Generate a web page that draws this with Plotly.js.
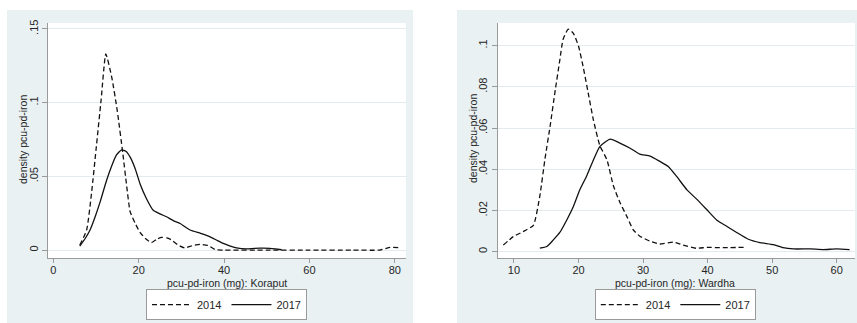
<!DOCTYPE html>
<html>
<head>
<meta charset="utf-8">
<script src="https://cdn.plot.ly/plotly-3.0.1.min.js"></script>
<style>
  html, body { margin: 0; padding: 0; background: #fff; }
  #chart { width: 857px; height: 323px; }
</style>
</head>
<body>
<div id="chart"></div>
<script>
// Kernel density estimates of per-capita-per-day iron intake (mg)

// Koraput
const koraput2014X = [6.2, 7.8, 9.0, 10.0, 11.2, 12.3, 13.7, 15.0, 16.3, 17.2, 18.0, 19.2, 20.3, 21.7, 23.0, 24.3, 25.4, 26.6, 27.7, 29.2, 30.8, 32.6, 34.4, 36.3, 38.0, 40, 50, 60, 70, 76.5, 78.9, 80.8];
const koraput2014Y = [0.0034, 0.0136, 0.040, 0.068, 0.102, 0.133, 0.117, 0.094, 0.065, 0.043, 0.026, 0.018, 0.012, 0.0075, 0.005, 0.0075, 0.0086, 0.0082, 0.0068, 0.0035, 0.0014, 0.003, 0.0039, 0.003, 0.0002, 0, 0, 0, 0, 0, 0.0018, 0.0016];
const koraput2017X = [6.2, 7.5, 8.6, 9.8, 11.0, 12.5, 13.8, 14.8, 16.0, 17.0, 18.0, 19.2, 20.3, 21.8, 23.4, 25.0, 26.5, 28.1, 29.7, 32.0, 34.5, 36.7, 38.2, 39.8, 41.3, 42.9, 45.3, 48.4, 50.7, 52.0, 53.5];
const koraput2017Y = [0.0027, 0.008, 0.0136, 0.0226, 0.033, 0.0475, 0.058, 0.0645, 0.068, 0.067, 0.063, 0.055, 0.045, 0.035, 0.027, 0.0245, 0.0226, 0.020, 0.018, 0.0136, 0.0113, 0.009, 0.0068, 0.0045, 0.0028, 0.0015, 0.0008, 0.0013, 0.0012, 0.0008, 0.0002];

// Wardha
const wardha2014X = [8.35, 9.9, 11.4, 13.0, 14.0, 14.8, 15.6, 16.4, 17.1, 17.6, 18.4, 19.2, 20.0, 20.7, 21.5, 22.3, 23.3, 24.4, 25.4, 26.4, 27.5, 28.5, 29.5, 31.1, 32.6, 34.7, 36.2, 38.3, 39.9, 41.9, 45.8];
const wardha2014Y = [0.0032, 0.0073, 0.0097, 0.0128, 0.027, 0.045, 0.061, 0.0786, 0.093, 0.103, 0.108, 0.106, 0.0997, 0.09, 0.077, 0.064, 0.0515, 0.0446, 0.032, 0.024, 0.017, 0.0105, 0.0075, 0.005, 0.0037, 0.0046, 0.0032, 0.0016, 0.0021, 0.0019, 0.0021];
const wardha2017X = [14.0, 15.1, 16.1, 17.1, 18.2, 19.2, 20.2, 21.3, 22.3, 23.3, 24.9, 26.4, 28.0, 29.5, 31.1, 32.6, 33.9, 35.2, 36.8, 38.3, 39.9, 41.4, 43.0, 44.5, 46.3, 48.1, 50.2, 51.7, 53.3, 55.9, 57.9, 60.0, 62.0];
const wardha2017Y = [0.0017, 0.0025, 0.0057, 0.0093, 0.0155, 0.0219, 0.030, 0.037, 0.0445, 0.051, 0.0546, 0.0527, 0.0502, 0.0473, 0.0464, 0.0438, 0.0413, 0.0365, 0.030, 0.0255, 0.0203, 0.0154, 0.0122, 0.0093, 0.006, 0.0044, 0.0034, 0.0019, 0.0013, 0.0013, 0.001, 0.0013, 0.001];

const years = ['2014', '2017'];
const xTicksLeft = [0, 20, 40, 60, 80];
const yTicksLeft = [0, 0.05, 0.1, 0.15];
const yTickTextLeft = ['0', '.05', '.1', '.15'];
const xTicksRight = [10, 20, 30, 40, 50, 60];
const yTicksRight = [0, 0.02, 0.04, 0.06, 0.08, 0.1];
const yTickTextRight = ['0', '.02', '.04', '.06', '.08', '.1'];
const xTitleLeft = 'pcu-pd-iron (mg): Koraput';
const xTitleRight = 'pcu-pd-iron (mg): Wardha';
const yTitle = 'density pcu-pd-iron';

const FONT = 'Liberation Sans, Arial, sans-serif';
const TEXT = '#262626';
const AXIS = '#9a9a9a';
const GRID = '#e3ebee';
const REGION = '#e9f1f3';
const DASH = '5px,3px';

function curve(x, y, name, dashed, xa, ya, leg) {
  return {
    type: 'scatter', mode: 'lines', x: x, y: y, name: name,
    xaxis: xa, yaxis: ya, legend: leg,
    line: { color: '#111', width: 1.3, dash: dashed ? DASH : 'solid', shape: 'spline', smoothing: 0.5 },
    hoverinfo: 'skip'
  };
}

const data = [
  curve(koraput2014X, koraput2014Y, years[0], true, 'x', 'y', 'legend'),
  curve(koraput2017X, koraput2017Y, years[1], false, 'x', 'y', 'legend'),
  curve(wardha2014X, wardha2014Y, years[0], true, 'x2', 'y2', 'legend2'),
  curve(wardha2017X, wardha2017Y, years[1], false, 'x2', 'y2', 'legend2')
];

function xAxis(domain, range, ticks, anchor) {
  return {
    domain: domain, range: range, anchor: anchor,
    tickvals: ticks, ticks: 'outside', ticklen: 4, tickcolor: AXIS, tickwidth: 1,
    ticklabelstandoff: -2,
    showline: true, linecolor: AXIS, linewidth: 1, showgrid: false, zeroline: false,
    tickfont: { family: FONT, size: 11, color: TEXT }
  };
}
function yAxis(domain, range, ticks, labels, anchor) {
  return {
    domain: domain, range: range, anchor: anchor,
    tickvals: ticks, ticktext: labels, tickangle: -90,
    ticks: 'outside', ticklen: 5, tickcolor: AXIS, tickwidth: 1,
    showline: true, linecolor: AXIS, linewidth: 1,
    showgrid: true, gridcolor: GRID, gridwidth: 1, zeroline: false,
    tickfont: { family: FONT, size: 11, color: TEXT }
  };
}

function legendBox(xc) {
  return {
    x: xc, xanchor: 'center', y: 0.105, yanchor: 'top', orientation: 'h',
    bgcolor: '#ffffff', bordercolor: '#9a9a9a', borderwidth: 1,
    font: { family: FONT, size: 11, color: TEXT }, itemwidth: 40, tracegroupgap: 0
  };
}

// axis titles placed tight against the tick labels
function axisTitle(text, xpx, ypx, vertical) {
  return {
    text: text, xref: 'paper', yref: 'paper',
    x: xpx / 857, y: 1 - ypx / 323, xanchor: 'center', yanchor: 'middle',
    showarrow: false, textangle: vertical ? -90 : 0,
    font: { family: FONT, size: 10.5, color: TEXT }
  };
}

const yDomain = [0.2012, 0.9288];

const layout = {
  width: 857, height: 323,
  margin: { l: 0, r: 0, t: 0, b: 0 },
  paper_bgcolor: '#ffffff', plot_bgcolor: '#ffffff',
  showlegend: true,
  xaxis: xAxis([0.0560, 0.4737], [-1.25, 82.6], xTicksLeft, 'y'),
  yaxis: yAxis(yDomain, [-0.0054, 0.154], yTicksLeft, yTickTextLeft, 'x'),
  xaxis2: xAxis([0.5807, 0.9977], [7.47, 62.84], xTicksRight, 'y2'),
  yaxis2: yAxis(yDomain, [-0.0031, 0.111], yTicksRight, yTickTextRight, 'x2'),
  legend: legendBox(0.2643),
  legend2: legendBox(0.788),
  annotations: [
    axisTitle(xTitleLeft, 226.5, 282.5, false),
    axisTitle(xTitleRight, 675, 282.5, false),
    axisTitle(yTitle, 23, 140, true),
    axisTitle(yTitle, 473, 139, true)
  ],
  shapes: [
    // graph regions
    { type: 'rect', xref: 'paper', yref: 'paper', x0: 7 / 857, x1: 413 / 857, y0: 0, y1: 313 / 323,
      fillcolor: REGION, line: { width: 0 }, layer: 'below' },
    { type: 'rect', xref: 'paper', yref: 'paper', x0: 457 / 857, x1: 1, y0: 0, y1: 313 / 323,
      fillcolor: REGION, line: { width: 0 }, layer: 'below' },
    // plot regions
    { type: 'rect', xref: 'x domain', yref: 'y domain', x0: 0, x1: 1, y0: 0, y1: 1,
      fillcolor: '#ffffff', line: { width: 0 }, layer: 'below' },
    { type: 'rect', xref: 'x2 domain', yref: 'y2 domain', x0: 0, x1: 1, y0: 0, y1: 1,
      fillcolor: '#ffffff', line: { width: 0 }, layer: 'below' }
  ]
};

Plotly.newPlot('chart', data, layout, { staticPlot: true, displayModeBar: false });
</script>
</body>
</html>
